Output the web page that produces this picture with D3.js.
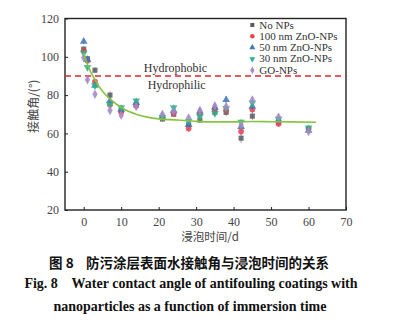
<!DOCTYPE html>
<html>
<head>
<meta charset="utf-8">
<script src="https://cdn.jsdelivr.net/npm/d3@7"></script>
<style>
  body { margin: 0; background: #fff; }
  svg text { font-family: "Liberation Serif", "DejaVu Serif", serif; }
  .cjk { font-family: "Noto Sans CJK SC", sans-serif !important; }
</style>
</head>
<body>
<div id="chart"></div>
<script>
// immersion days
var days = [0, 1, 3, 7, 10, 14, 21, 24, 28, 31, 35, 38, 42, 45, 52, 60];

// contact angle (deg) for each coating
var noNPs   = [104, 99, 93, 80, 72, 75, 67.5, 70, 64.5, 67, 71, 71, 57.5, 69, 66, 62];
var zno100  = [103, 98, 87, 75, 71, 74.5, 68, 70.5, 62.5, 70, 73, 72, 61, 72.5, 65, 62.5];
var zno50   = [108, 98.5, 85, 77, 72.5, 76, 69, 72, 64.5, 71.5, 73.5, 77.5, 63.5, 74, 67, 61.5];
var zno30   = [102, 94.5, 85, 75, 73.5, 77, 68.5, 73.5, 66.5, 69, 70.5, 73, 66, 76, 67.5, 63];
var goNPs   = [99.5, 88, 80.5, 72, 69.5, 74, 70, 71.5, 68, 72, 74.5, 74, 64.5, 77.5, 68.5, 61];

// standard deviations
var errNo   = [1.5, 1.5, 1.5, 2, 1.5, 1.5, 1.5, 1.5, 2, 1.5, 1.5, 2, 2.5, 2, 1.5, 1.5];
var err100  = [1.5, 1.5, 1.5, 1.5, 1.5, 1.5, 1.5, 1.5, 1.5, 1.5, 1.5, 2, 2, 2, 1.5, 1.5];
var err50   = [1.5, 1.5, 1.5, 1.5, 1.5, 1.5, 1.5, 1.5, 1.5, 1.5, 1.5, 2, 2, 2, 1.5, 1.5];
var err30   = [1.5, 1.5, 1.5, 1.5, 1.5, 1.5, 1.5, 1.5, 1.5, 1.5, 1.5, 1.5, 1.5, 1.5, 1.5, 1.5];
var errGO   = [1.5, 1.5, 1.5, 1.5, 1.5, 1.5, 1.5, 1.5, 1.5, 1.5, 1.5, 1.5, 1.5, 2, 1.5, 1.5];

// fitted trend line
var fitDays   = [0, 1, 3, 5, 7, 10, 14, 17, 20, 25, 30, 35, 40, 45, 50, 55, 62];
var fitAngles = [102, 96, 88, 82, 78, 73.5, 70, 68.5, 67.6, 67, 66.3, 66, 66, 66.2, 66.1, 66, 65.8];

var seriesNames = ["No NPs", "100 nm ZnO-NPs", "50 nm ZnO-NPs", "30 nm ZnO-NPs", "GO-NPs"];
var xTicks = [0, 10, 20, 30, 40, 50, 60, 70];
var yTicks = [20, 40, 60, 80, 100, 120];

var svgWidth = 395;
var svgHeight = 330;

var margin = { top: 18.5, right: 49, bottom: 120, left: 65 };
var chartWidth = svgWidth - margin.left - margin.right;
var chartHeight = svgHeight - margin.top - margin.bottom;

var svg = d3.select("#chart")
    .append("svg")
    .attr("width", svgWidth)
    .attr("height", svgHeight);

var chartGroup = svg.append("g")
    .attr("transform", `translate(${margin.left}, ${margin.top})`);

var xScale = d3.scaleLinear().domain([-5, 70]).range([0, chartWidth]);
var yScale = d3.scaleLinear().domain([20, 120]).range([chartHeight, 0]);

var series = [
    { name: seriesNames[0], vals: noNPs,  err: errNo,  color: "#555a66", shape: d3.symbolSquare,   size: 26 },
    { name: seriesNames[1], vals: zno100, err: err100, color: "#e8414b", shape: d3.symbolCircle,   size: 26 },
    { name: seriesNames[2], vals: zno50,  err: err50,  color: "#3b78b8", shape: d3.symbolTriangle, size: 26 },
    { name: seriesNames[3], vals: zno30,  err: err30,  color: "#2fb38a", shape: d3.symbolTriangle, size: 26, flip: true },
    { name: seriesNames[4], vals: goNPs,  err: errGO,  color: "#a88ac8", shape: d3.symbolDiamond,  size: 26 }
];

// axes with inward ticks
var xAxis = d3.axisBottom(xScale).tickValues(xTicks).tickSizeInner(-3).tickSizeOuter(0).tickPadding(7);
var yAxis = d3.axisLeft(yScale).tickValues(yTicks).tickSizeInner(-3).tickSizeOuter(0).tickPadding(6);

var gx = chartGroup.append("g")
    .attr("transform", `translate(0, ${chartHeight})`)
    .call(xAxis);
var gy = chartGroup.append("g").call(yAxis);

[gx, gy].forEach(function (g) {
    g.select(".domain").remove();
    g.selectAll("line").attr("stroke", "#222").attr("stroke-width", 1);
    g.selectAll("text")
        .attr("font-size", "12px")
        .attr("fill", "#444")
        .style("font-family", "Liberation Serif, serif");
});

// frame
chartGroup.append("rect")
    .attr("width", chartWidth)
    .attr("height", chartHeight)
    .attr("fill", "none")
    .attr("stroke", "#222")
    .attr("stroke-width", 1.4);

// hydrophobic / hydrophilic boundary
chartGroup.append("line")
    .attr("x1", 0).attr("x2", chartWidth)
    .attr("y1", yScale(90)).attr("y2", yScale(90))
    .attr("stroke", "#e3242b")
    .attr("stroke-width", 1.5)
    .attr("stroke-dasharray", "6,4");

chartGroup.append("text")
    .attr("x", xScale(24.5)).attr("y", yScale(90) - 4)
    .attr("text-anchor", "middle")
    .attr("font-size", "12px")
    .attr("fill", "#333")
    .text("Hydrophobic");

chartGroup.append("text")
    .attr("x", xScale(24.8)).attr("y", yScale(90) + 13)
    .attr("text-anchor", "middle")
    .attr("font-size", "12px")
    .attr("fill", "#333")
    .text("Hydrophilic");

// error bars
series.forEach(function (s) {
    var pts = days.map((d, i) => ({ x: d, y: s.vals[i], e: s.err[i] }));
    chartGroup.append("g").selectAll("line")
        .data(pts)
        .enter()
        .append("line")
        .attr("x1", d => xScale(d.x)).attr("x2", d => xScale(d.x))
        .attr("y1", d => yScale(d.y - d.e)).attr("y2", d => yScale(d.y + d.e))
        .attr("stroke", "#8a8a99")
        .attr("stroke-width", 0.8);
});

// markers
series.forEach(function (s) {
    var pts = days.map((d, i) => ({ x: d, y: s.vals[i] }));
    chartGroup.append("g").selectAll("path")
        .data(pts)
        .enter()
        .append("path")
        .attr("d", d3.symbol().type(s.shape).size(s.size))
        .attr("transform", d => `translate(${xScale(d.x)}, ${yScale(d.y)})` + (s.flip ? " rotate(180)" : ""))
        .attr("fill", s.color)
        .attr("opacity", 0.85);
});

// fitted curve
var fitLine = d3.line()
    .x((d, i) => xScale(fitDays[i]))
    .y(d => yScale(d))
    .curve(d3.curveMonotoneX);

chartGroup.append("path")
    .datum(fitAngles)
    .attr("d", fitLine)
    .attr("fill", "none")
    .attr("stroke", "#86c440")
    .attr("stroke-width", 1.6);

// legend
var legend = chartGroup.append("g")
    .attr("transform", `translate(${xScale(45)}, 6.5)`);

series.forEach(function (s, i) {
    var row = legend.append("g").attr("transform", `translate(0, ${i * 11.3})`);
    row.append("path")
        .attr("d", d3.symbol().type(s.shape).size(16))
        .attr("transform", s.flip ? "rotate(180)" : null)
        .attr("fill", s.color);
    row.append("text")
        .attr("x", 7)
        .attr("y", 3.5)
        .attr("font-size", "11px")
        .attr("fill", "#333")
        .text(s.name);
});

// axis titles
svg.append("text")
    .attr("class", "cjk")
    .attr("transform", "rotate(-90)")
    .attr("x", -(margin.top + chartHeight / 2) + 8)
    .attr("y", 38)
    .attr("text-anchor", "middle")
    .attr("font-size", "12px")
    .attr("fill", "#444")
    .text("接触角/(°)");

svg.append("text")
    .attr("class", "cjk")
    .attr("x", 210)
    .attr("y", 241)
    .attr("text-anchor", "middle")
    .attr("font-size", "11.5px")
    .attr("fill", "#444")
    .text("浸泡时间/d");

// caption
svg.append("text")
    .attr("class", "cjk")
    .attr("x", 189)
    .attr("y", 268)
    .attr("text-anchor", "middle")
    .attr("font-size", "13.5px")
    .attr("font-weight", "bold")
    .attr("fill", "#111")
    .attr("xml:space", "preserve")
    .text("图 8    防污涂层表面水接触角与浸泡时间的关系");

svg.append("text")
    .attr("x", 191)
    .attr("y", 288)
    .attr("text-anchor", "middle")
    .attr("font-size", "14px")
    .attr("font-weight", "bold")
    .attr("fill", "#111")
    .attr("xml:space", "preserve")
    .text("Fig. 8    Water contact angle of antifouling coatings with");

svg.append("text")
    .attr("x", 190)
    .attr("y", 311)
    .attr("text-anchor", "middle")
    .attr("font-size", "14px")
    .attr("font-weight", "bold")
    .attr("fill", "#111")
    .text("nanoparticles as a function of immersion time");
</script>
</body>
</html>
